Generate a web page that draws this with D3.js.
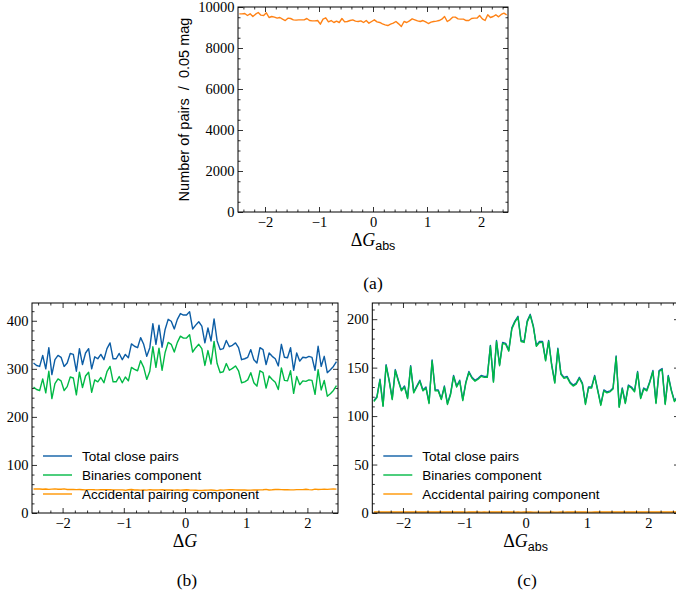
<!DOCTYPE html>
<html><head><meta charset="utf-8">
<script src="https://cdn.jsdelivr.net/npm/d3@7"></script>
<style>body{margin:0;background:#fff}svg{display:block}</style>
</head><body>
<script>
// ---------------- DATA ----------------
const binWidth = 0.05;
const xRange = [-2.5, 2.5];
const xTicksMajor = [-2, -1, 0, 1, 2];

// (a) all pairs per 0.05 mag (accidental-pair template)
const pairsA = [
9667,9667,9684,9586,9667,9537,9651,9733,9602,9586,
9716,9488,9537,9504,9455,9488,9407,9341,9455,9439,
9374,9358,9374,9374,9374,9439,9341,9325,9325,9341,
9162,9407,9472,9276,9341,9244,9309,9244,9439,9276,
9292,9341,9374,9309,9292,9325,9244,9341,9211,9292,
9374,9276,9244,9178,9130,9097,9162,9211,9292,9178,
9048,9292,9244,9325,9423,9374,9325,9292,9341,9276,
9195,9260,9292,9309,9341,9407,9537,9292,9374,9504,
9504,9423,9407,9407,9341,9341,9439,9455,9455,9586,
9423,9341,9619,9488,9537,9619,9521,9635,9700,9619];

// (b)
const totalB = [
312,307,305,328,300,344,288,319,328,324,
305,312,332,330,295,342,309,333,342,300,
325,321,330,319,342,354,321,321,332,319,
330,323,352,347,344,365,351,326,344,394,
351,391,345,382,403,399,383,403,415,412,
412,419,383,391,398,389,354,385,358,404,
358,340,342,359,346,349,354,344,319,321,
324,340,319,312,344,340,309,333,326,321,
306,351,324,323,344,297,333,316,324,323,
326,324,297,347,305,326,292,298,305,315];
const binariesB = [
262,257,255,279,250,295,238,269,279,275,
255,263,283,281,246,293,261,285,293,251,
277,273,282,271,294,305,273,273,284,271,
283,275,303,299,296,317,303,278,295,346,
303,343,297,334,355,351,335,355,368,364,
364,371,335,344,351,342,307,338,310,357,
311,292,294,311,297,301,306,296,271,273,
277,292,271,264,296,292,260,285,278,272,
257,302,276,275,296,249,284,267,275,274,
277,276,247,298,256,276,243,248,255,265];
const accidentalB = [
49.8,49.8,49.9,49.4,49.8,49.2,49.7,50.2,49.5,49.4,
50.1,48.9,49.2,49.0,48.7,48.9,48.5,48.1,48.7,48.7,
48.3,48.2,48.3,48.3,48.3,48.7,48.1,48.1,48.1,48.1,
47.2,48.5,48.8,47.8,48.1,47.6,48.0,47.6,48.7,47.8,
47.9,48.1,48.3,48.0,47.9,48.1,47.6,48.1,47.5,47.9,
48.3,47.8,47.6,47.3,47.1,46.9,47.2,47.5,47.9,47.3,
46.6,47.9,47.6,48.1,48.6,48.3,48.1,47.9,48.1,47.8,
47.4,47.7,47.9,48.0,48.1,48.5,49.2,47.9,48.3,49.0,
49.0,48.6,48.5,48.5,48.1,48.1,48.7,48.7,48.7,49.4,
48.6,48.1,49.6,48.9,49.2,49.6,49.1,49.7,50.0,49.6];

// (c)
const totalC = [
116,120,138,111,153,137,118,148,137,127,
131,119,152,125,131,137,127,130,114,158,
127,127,118,131,113,123,142,131,137,117,
135,146,140,137,139,142,141,141,173,136,
178,153,176,175,168,191,198,203,178,177,
198,205,193,173,177,177,158,178,153,135,
170,144,140,141,135,132,134,140,134,113,
130,130,142,127,112,127,125,126,129,162,
110,129,114,132,130,126,146,119,129,127,
136,147,114,147,149,113,142,127,116,120];
const binariesC = [
115,119,137,110,152,136,117,147,136,126,
130,118,151,124,130,136,126,129,113,157,
126,126,117,130,112,122,141,130,136,116,
134,145,139,136,138,141,140,140,172,135,
177,152,175,174,167,190,197,202,177,176,
197,204,192,172,176,176,157,177,152,134,
169,143,139,140,134,131,133,139,133,112,
129,129,141,126,111,126,124,125,128,161,
109,128,113,131,129,125,145,118,128,126,
135,146,113,146,148,112,141,126,115,119];
const accidentalC = [
1.00,1.00,1.00,0.99,1.00,0.98,0.99,1.00,0.99,0.99,
1.00,0.98,0.98,0.98,0.97,0.98,0.97,0.96,0.97,0.97,
0.97,0.96,0.97,0.97,0.97,0.97,0.96,0.96,0.96,0.96,
0.94,0.97,0.98,0.96,0.96,0.95,0.96,0.95,0.97,0.96,
0.96,0.96,0.97,0.96,0.96,0.96,0.95,0.96,0.95,0.96,
0.97,0.96,0.95,0.95,0.94,0.94,0.94,0.95,0.96,0.95,
0.93,0.96,0.95,0.96,0.97,0.97,0.96,0.96,0.96,0.96,
0.95,0.95,0.96,0.96,0.96,0.97,0.98,0.96,0.97,0.98,
0.98,0.97,0.97,0.97,0.96,0.96,0.97,0.97,0.97,0.99,
0.97,0.96,0.99,0.98,0.98,0.99,0.98,0.99,1.00,0.99];

const yTicksA = [0, 2000, 4000, 6000, 8000, 10000];
const yTicksB = [0, 100, 200, 300, 400];
const yTicksC = [0, 50, 100, 150, 200];
const legendLabels = ["Total close pairs", "Binaries component", "Accidental pairing component"];
const captions = ["(a)", "(b)", "(c)"];
const yLabelA = "Number of pairs  /  0.05 mag";

// ---------------- DRAW ----------------
const COLORS = {blue: "#0C5DA5", green: "#00B945", orange: "#FF9500", orangeA: "#FF8215"};
const SERIF = "'Liberation Serif', 'DejaVu Serif', serif";
const SANS = "'Liberation Sans', 'DejaVu Sans', sans-serif";
const binCenters = pairsA.map((_, i) => xRange[0] + binWidth * (i + 0.5));

const svg = d3.select("body").append("svg").attr("width", 676).attr("height", 596);

function styleAxis(sel, labels) {
  sel.select(".domain").remove();
  sel.selectAll(".tick line").attr("stroke", "#000").attr("stroke-width", 0.8);
  if (!labels) sel.selectAll(".tick text").remove();
  else sel.selectAll(".tick text").attr("font-family", SERIF).attr("font-size", 14.5).attr("fill", "#000");
}

function drawPanel(p) {
  const x = d3.scaleLinear().domain(xRange).range([p.left, p.right]);
  const y = d3.scaleLinear().domain([0, p.ymax]).range([p.bottom, p.top]);
  const g = svg.append("g");
  const clipId = "clip-" + p.name;
  svg.append("clipPath").attr("id", clipId).append("rect")
    .attr("x", p.left).attr("y", p.top - 2).attr("width", p.right - p.left).attr("height", p.bottom - p.top + 2);

  const line = d3.line().x((d, i) => x(binCenters[i])).y(d => y(d));
  p.series.forEach(s => {
    g.append("path").datum(s.values).attr("d", line)
      .attr("fill", "none").attr("stroke", s.color).attr("stroke-width", 1.4)
      .attr("stroke-linejoin", "round").attr("clip-path", `url(#${clipId})`);
  });

  const fmt = d3.format("d");
  const xMinor = d3.range(-24, 25, 2).map(v => v / 10).filter(v => Math.abs(v - Math.round(v)) > 1e-6);
  const yMinor = d3.range(0, p.ymax, p.yMinorStep).filter(v => !p.yMajor.includes(v));

  // bottom
  g.append("g").attr("transform", `translate(0,${p.bottom})`)
    .call(d3.axisBottom(x).tickValues(xTicksMajor).tickSize(-5).tickPadding(5).tickFormat(fmt))
    .call(s => styleAxis(s, true));
  g.append("g").attr("transform", `translate(0,${p.bottom})`)
    .call(d3.axisBottom(x).tickValues(xMinor).tickSize(-2.5)).call(s => styleAxis(s, false));
  // top
  g.append("g").attr("transform", `translate(0,${p.top})`)
    .call(d3.axisTop(x).tickValues(xTicksMajor).tickSize(-5)).call(s => styleAxis(s, false));
  g.append("g").attr("transform", `translate(0,${p.top})`)
    .call(d3.axisTop(x).tickValues(xMinor).tickSize(-2.5)).call(s => styleAxis(s, false));
  // left
  g.append("g").attr("transform", `translate(${p.left},0)`)
    .call(d3.axisLeft(y).tickValues(p.yMajor).tickSize(-5).tickPadding(3.5).tickFormat(fmt))
    .call(s => styleAxis(s, true));
  g.append("g").attr("transform", `translate(${p.left},0)`)
    .call(d3.axisLeft(y).tickValues(yMinor).tickSize(-2.5)).call(s => styleAxis(s, false));
  // right
  g.append("g").attr("transform", `translate(${p.right},0)`)
    .call(d3.axisRight(y).tickValues(p.yMajor).tickSize(-5)).call(s => styleAxis(s, false));
  g.append("g").attr("transform", `translate(${p.right},0)`)
    .call(d3.axisRight(y).tickValues(yMinor).tickSize(-2.5)).call(s => styleAxis(s, false));

  // frame
  g.append("rect").attr("x", p.left).attr("y", p.top)
    .attr("width", p.right - p.left).attr("height", p.bottom - p.top)
    .attr("fill", "none").attr("stroke", "#000").attr("stroke-width", 1);

  // x label
  const xl = g.append("text").attr("x", (p.left + p.right) / 2).attr("y", p.bottom + 34)
    .attr("text-anchor", "middle").attr("font-family", SERIF).attr("font-size", 18).attr("fill", "#000");
  xl.append("tspan").text("Δ");
  xl.append("tspan").attr("font-style", "italic").text("G");
  if (p.abs) xl.append("tspan").attr("font-family", SANS).attr("font-size", 12.5).attr("dy", 4).text("abs");

  // y label
  if (p.ylabel) {
    g.append("text").attr("transform", `translate(${p.left - 49},${(p.top + p.bottom) / 2}) rotate(-90)`)
      .attr("text-anchor", "middle").attr("font-family", SANS).attr("font-size", 14.5).attr("fill", "#000")
      .style("white-space", "pre").text(p.ylabel);
  }

  // legend
  if (p.legend) {
    const rows = [456, 475, 494];
    p.series.forEach((s, i) => {
      g.append("line").attr("x1", p.left + 11).attr("x2", p.left + 40).attr("y1", rows[i]).attr("y2", rows[i])
        .attr("stroke", s.color).attr("stroke-width", 1.4);
      g.append("text").attr("x", p.left + 50).attr("y", rows[i]).attr("dy", "0.35em")
        .attr("font-family", SANS).attr("font-size", 13.5).attr("fill", "#000").text(legendLabels[i]);
    });
  }

  // caption
  svg.append("text").attr("x", p.captionX).attr("y", p.captionY).attr("text-anchor", "middle")
    .attr("font-family", SERIF).attr("font-size", 17.5).attr("fill", "#000").text(p.caption);
}

drawPanel({name: "a", left: 238, right: 508, top: 7, bottom: 212, ymax: 10000,
  yMajor: yTicksA, yMinorStep: 500, abs: true, ylabel: yLabelA,
  series: [{values: pairsA, color: COLORS.orangeA}],
  caption: captions[0], captionX: 373, captionY: 289});

drawPanel({name: "b", left: 32, right: 338, top: 303, bottom: 513, ymax: 437,
  yMajor: yTicksB, yMinorStep: 20, abs: false, legend: true,
  series: [{values: totalB, color: COLORS.blue}, {values: binariesB, color: COLORS.green}, {values: accidentalB, color: COLORS.orange}],
  caption: captions[1], captionX: 187, captionY: 586});

drawPanel({name: "c", left: 372.3, right: 679, top: 303, bottom: 513, ymax: 216.7,
  yMajor: yTicksC, yMinorStep: 10, abs: true, legend: true,
  series: [{values: totalC, color: COLORS.blue}, {values: binariesC, color: COLORS.green}, {values: accidentalC, color: COLORS.orange}],
  caption: captions[2], captionX: 527, captionY: 586});
</script>
</body></html>
